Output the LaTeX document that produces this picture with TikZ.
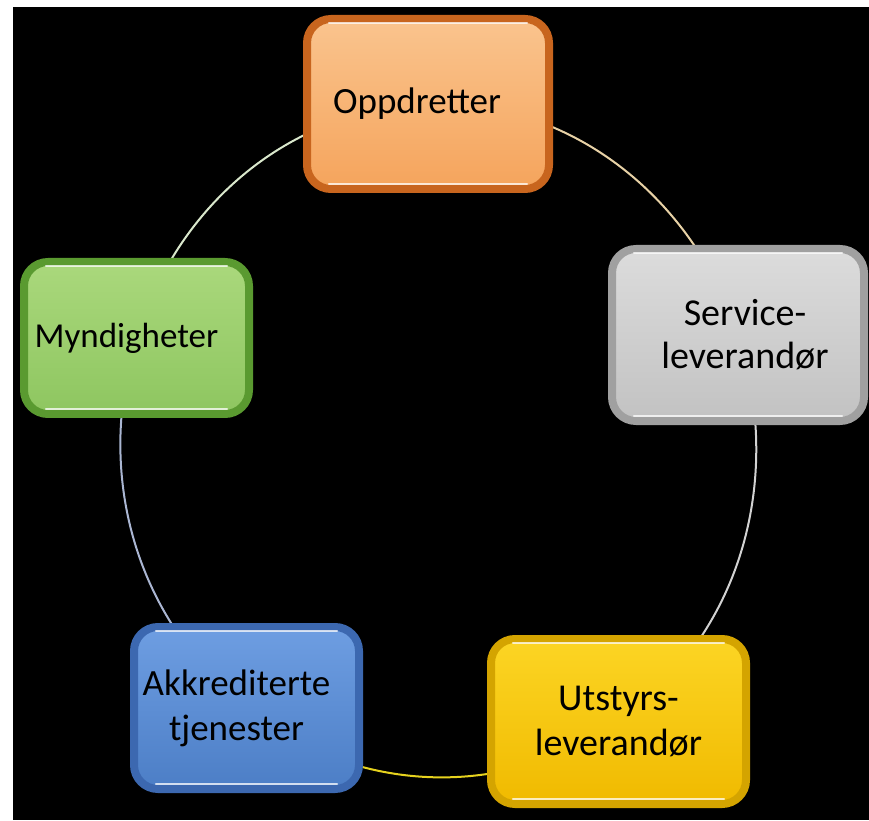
\documentclass[tikz,border=0pt]{standalone}
\usepackage{fontspec}
\setmainfont{Carlito}
\usetikzlibrary{backgrounds}
\definecolor{rimO}{HTML}{C8651E}\definecolor{topO}{HTML}{FAC48E}\definecolor{botO}{HTML}{F5A45C}
\definecolor{rimS}{HTML}{A0A0A0}\definecolor{topS}{HTML}{DCDCDC}\definecolor{botS}{HTML}{C2C2C2}
\definecolor{rimM}{HTML}{5A9A30}\definecolor{topM}{HTML}{AAD87C}\definecolor{botM}{HTML}{8EC660}
\definecolor{rimA}{HTML}{3C68B0}\definecolor{topA}{HTML}{6E9EE2}\definecolor{botA}{HTML}{4C7EC6}
\definecolor{rimU}{HTML}{D4A400}\definecolor{topU}{HTML}{FCD524}\definecolor{botU}{HTML}{F0BA00}
\definecolor{lnO}{HTML}{E8D2A6}\definecolor{lnS}{HTML}{D2D2D2}\definecolor{lnU}{HTML}{E6D21E}
\definecolor{lnA}{HTML}{AAB6D2}\definecolor{lnM}{HTML}{DAE8CC}
\tikzset{
  box/.style n args={3}{rectangle, rounded corners=24pt, draw=#1, line width=8pt,
    top color=#2, bottom color=#3, align=center, text=black, inner sep=0pt},
  shine/.style={draw=white, line width=2.2pt, opacity=0.75, line cap=round},
  link/.style={line width=2pt, looseness=0.95},
}
\begin{document}
\begin{tikzpicture}[x=1pt,y=1pt]
\useasboundingbox (0,0) rectangle (869,820);
% boxes
\node[box={rimO}{topO}{botO}, minimum width=242pt, minimum height=170pt,
  font=\fontsize{37}{43}\selectfont] (opp) at (428,716) {\hspace*{-22pt}Oppdretter};
\node[box={rimS}{topS}{botS}, minimum width=252pt, minimum height=172pt,
  font=\fontsize{38}{43}\selectfont] (serv) at (738,485) {\hspace*{14pt}Service-\\\hspace*{14pt}leverandør};
\node[box={rimM}{topM}{botM}, minimum width=225pt, minimum height=152pt,
  font=\fontsize{35}{43}\selectfont] (mynd) at (136.5,482) {\hspace*{-20pt}Myndigheter};
\node[box={rimA}{topA}{botA}, minimum width=225pt, minimum height=162pt,
  font=\fontsize{37}{45}\selectfont] (akk) at (246.5,112) {\hspace*{-20pt}Akkrediterte\\\hspace*{-20pt}tjenester};
\node[box={rimU}{topU}{botU}, minimum width=255pt, minimum height=165pt,
  font=\fontsize{38}{45}\selectfont] (utst) at (618.5,98.5) {Utstyrs-\\leverandør};
% glossy highlights
\foreach \n in {opp,serv,mynd,akk,utst}{
  \draw[shine] ([xshift=26pt,yshift=-8pt]\n.north west) -- ([xshift=-26pt,yshift=-8pt]\n.north east);
  \draw[shine] ([xshift=26pt,yshift=9pt]\n.south west) -- ([xshift=-26pt,yshift=9pt]\n.south east);
}
\begin{scope}[on background layer]
  \fill[white] (0,0) rectangle (869,820);
  \fill[black] (13,0) rectangle (869,813);
  \draw[link, lnO] (opp.center) to[out=2, in=108] (serv.center);
  \draw[link, lnS] (serv.center) to[out=-72, in=35] (utst.center);
  \draw[link, lnU] (utst.center) to[out=215, in=-39] (akk.center);
  \draw[link, lnA] (akk.center) to[out=141, in=253] (mynd.center);
  \draw[link, lnM] (mynd.center) to[out=73, in=182] (opp.center);
\end{scope}
\end{tikzpicture}
\end{document}
